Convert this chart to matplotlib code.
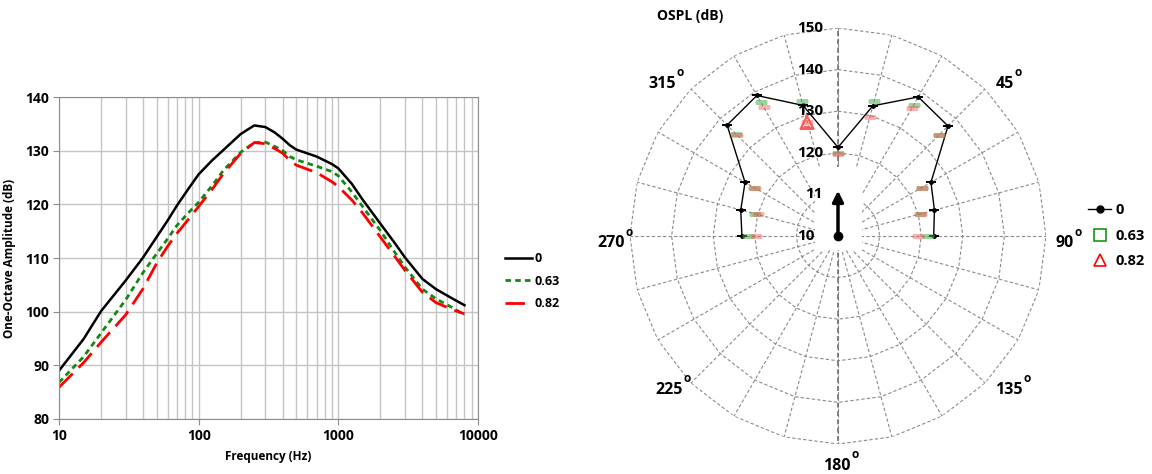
import numpy as np
import matplotlib
matplotlib.use('Agg')
import matplotlib.pyplot as plt
from matplotlib.lines import Line2D
from matplotlib.patches import Rectangle
from matplotlib.ticker import FixedLocator, NullFormatter
from matplotlib import transforms

plt.rcParams['font.family'] = ['Open Sans', 'DejaVu Sans']
plt.rcParams['font.weight'] = 'bold'

# ---- spectrum data (one-octave amplitude, dB) ----
freq = [10, 15, 20, 30, 40, 50, 60, 70, 85, 100, 125, 150, 200, 250, 300, 350, 400, 450,
        500, 700, 900, 1000, 1250, 1500, 2000, 2500, 3000, 4000, 5000, 6500, 8000]
amp_0 = [89.0, 94.9, 100.1, 105.8, 110.1, 113.9, 117.0, 119.8, 123.0, 125.6, 128.2, 130.1,
         133.1, 134.7, 134.4, 133.4, 132.2, 131.0, 130.2, 128.9, 127.5, 126.7, 123.8, 120.8,
         116.4, 113.0, 110.1, 106.1, 104.2, 102.5, 101.2]
amp_063 = [86.8, 91.6, 96.0, 102.2, 107.3, 110.8, 113.6, 116.1, 118.5, 120.4, 123.5, 126.3,
           129.7, 131.5, 131.6, 130.8, 130.0, 128.9, 128.3, 127.1, 126.1, 125.3, 122.3, 119.5,
           115.1, 111.3, 108.3, 104.2, 102.4, 100.8, 99.4]
amp_082 = [85.9, 90.5, 94.3, 99.4, 104.3, 109.0, 112.2, 114.6, 117.3, 119.6, 122.8, 125.7,
           129.5, 131.5, 131.3, 130.4, 129.5, 128.2, 127.3, 125.9, 124.2, 123.3, 120.8, 118.3,
           113.9, 110.5, 107.7, 103.6, 101.7, 100.4, 99.6]
series_labels = ['0', '0.63', '0.82']

# ---- directivity data (OSPL, dB) ----
angles_deg = [270, 285, 300, 315, 330, 345, 0, 15, 30, 45, 60, 75, 90]
ospl_0 = [123.1, 124.2, 125.8, 137.7, 139.0, 132.5, 121.3, 132.4, 138.6, 137.4, 125.8, 124.0, 123.0]
ospl_063 = [121.6, 120.7, 123.3, 134.8, 137.1, 133.7, 120.0, 133.6, 136.5, 134.5, 123.2, 120.5, 121.6]
ospl_082 = [119.6, 120.0, 123.1, 134.5, 135.8, 128.4, 119.6, 129.7, 135.5, 134.2, 123.2, 120.6, 119.2]
ring_levels = [110, 120, 130, 140, 150]
ring_labels = ['11', '120', '130', '140', '150']
angle_labels = ['315', '45', '270', '90', '225', '135', '180']

W, H = 1152, 474
fig = plt.figure(figsize=(W / 100, H / 100), dpi=100)

# ================= left: spectrum =================
ax = fig.add_axes([59 / W, 1 - 419 / H, 419 / W, 322 / H])
ax.plot(freq, amp_0, color='black', lw=1.8, label=series_labels[0])
ax.plot(freq, amp_063, color='#128a12', lw=2.0, ls=(0, (2, 1.5)), label=series_labels[1])
ax.plot(freq, amp_082, color='#ff0000', lw=2.0, ls=(0, (7, 3)), label=series_labels[2])
ax.set_xscale('log')
ax.set_xlim(10, 10000)
ax.set_ylim(80, 140)
ax.set_yticks(range(80, 141, 10))
ax.set_xticks([10, 100, 1000, 10000])
ax.set_xticklabels(['10', '100', '1000', '10000'])
minors = [m * d for d in (10, 100, 1000) for m in range(2, 10)]
ax.xaxis.set_minor_locator(FixedLocator(minors))
ax.xaxis.set_minor_formatter(NullFormatter())
ax.grid(True, which='both', color='#c4c4c4', lw=1.0)
ax.set_axisbelow(True)
for s in ax.spines.values():
    s.set_color('#8c8c8c')
ax.tick_params(which='minor', length=0)
ax.tick_params(which='major', length=4, color='#8c8c8c', labelsize=10, pad=3)
for t in ax.get_xticklabels() + ax.get_yticklabels():
    t.set_fontweight('bold')
ax.set_xlabel('Frequency (Hz)', fontsize=8.5, fontweight='bold', labelpad=5)
ax.set_ylabel('One-Octave Amplitude (dB)', fontsize=8.5, fontweight='bold', labelpad=7)
fig.legend(handles=ax.get_lines(), labels=series_labels, loc='upper left',
           bbox_to_anchor=(494 / W, 1 - 241 / H), frameon=False, handlelength=2.1,
           handletextpad=0.25, labelspacing=0.75, prop={'size': 9, 'weight': 'bold'})

# ================= right: directivity (radar style) =================
R = 208
pax = fig.add_axes([(838 - R) / W, (H - 236 - R) / H, 2 * R / W, 2 * R / H], polar=True)
pax.set_theta_zero_location('N')
pax.set_theta_direction(-1)
pax.set_ylim(100, 150)
pax.grid(False)
pax.set_xticks([])
pax.set_yticks([])
pax.spines['polar'].set_visible(False)
pax.patch.set_alpha(0)

spoke = np.deg2rad(np.arange(0, 360, 15))
ring_th = np.append(spoke, spoke[0])
for lev in ring_levels:
    pax.plot(ring_th, [lev] * len(ring_th), color='#8a8a8a', lw=0.8, ls=(0, (3, 2)), zorder=1)
for th in spoke:
    pax.plot([th, th], [100, 150], color='#8a8a8a', lw=0.8, ls=(0, (3, 2)), zorder=1)
pax.plot([0, 0], [100, 150], color='#707070', lw=1.2, ls=(0, (3, 2)), zorder=1)
pax.plot([np.pi, np.pi], [100, 150], color='#707070', lw=1.2, ls=(0, (3, 2)), zorder=1)

# white block round the centre
pax.add_patch(Rectangle(((815 - 630) / (2 * R), (444 - 250) / (2 * R)), 47 / (2 * R), 83 / (2 * R),
                        transform=pax.transAxes, facecolor='white', edgecolor='none', zorder=3))

lab_tr = transforms.offset_copy(pax.transData, fig=fig, x=-15, y=0, units='dots')
for lev, lab in zip(ring_levels, ring_labels):
    pax.text(0, lev, lab, transform=lab_tr, ha='right', va='center', fontsize=11,
             fontweight='bold', zorder=6)
pax.text(0, 100, '10', transform=transforms.offset_copy(pax.transData, fig=fig, x=-23, y=0, units='dots'),
         ha='right', va='center', fontsize=11, fontweight='bold', zorder=6)

th = np.deg2rad(angles_deg)
pax.plot(th, ospl_0, color='black', lw=1.0, marker='o', ms=2.5, zorder=4)
pax.plot(th, ospl_0, ls='none', marker='_', ms=7, mew=1.4, color='black', zorder=4)
pax.plot(th, ospl_063, ls='none', marker='_', ms=9, mew=2.2, color='#4caf50', alpha=0.55, zorder=4)
pax.plot(th, ospl_082, ls='none', marker='_', ms=9, mew=2.2, color='#ff5050', alpha=0.45, zorder=4)
pax.plot(th, ospl_082, ls='none', marker='^', ms=9, mew=1.6, mfc='none', mec='#ff5a5a',
         markevery=[angles_deg.index(345)], zorder=5)

pax.annotate('', xy=(0, 110.9), xytext=(0, 100),
             arrowprops=dict(arrowstyle='-|>', lw=2.5, color='black', mutation_scale=16,
                             shrinkA=0, shrinkB=0), zorder=7)
pax.plot([0], [100], 'o', color='black', ms=6, zorder=8, clip_on=False)

# angle labels
angle_pos = [(662, 84), (1005, 84), (611, 243), (1065, 243), (669, 390), (1009, 390), (837, 466)]
for lab, (x, y) in zip(angle_labels, angle_pos):
    fig.text(x / W, 1 - y / H, lab, ha='center', va='center', fontsize=11.5, fontweight='bold')
    fig.text((x + 5 + 4.3 * len(lab)) / W, 1 - (y - 11) / H, 'o', ha='center', va='center',
             fontsize=8.5, fontweight='bold')

fig.text(690 / W, 1 - 16 / H, 'OSPL (dB)', ha='center', va='center', fontsize=10, fontweight='bold')

handles = [Line2D([], [], color='black', lw=1.0, marker='o', ms=5),
           Line2D([], [], ls='none', marker='s', ms=8, mfc='none', mec='#129a12', mew=1.2),
           Line2D([], [], ls='none', marker='^', ms=8, mfc='none', mec='#ff0000', mew=1.2)]
fig.legend(handles=handles, labels=series_labels, loc='upper left',
           bbox_to_anchor=(1075 / W, 1 - 190 / H), frameon=False, handlelength=1.6,
           handletextpad=0.3, labelspacing=0.8, prop={'size': 10.5, 'weight': 'bold'})

fig.savefig('out.png', dpi=100, facecolor='white')
